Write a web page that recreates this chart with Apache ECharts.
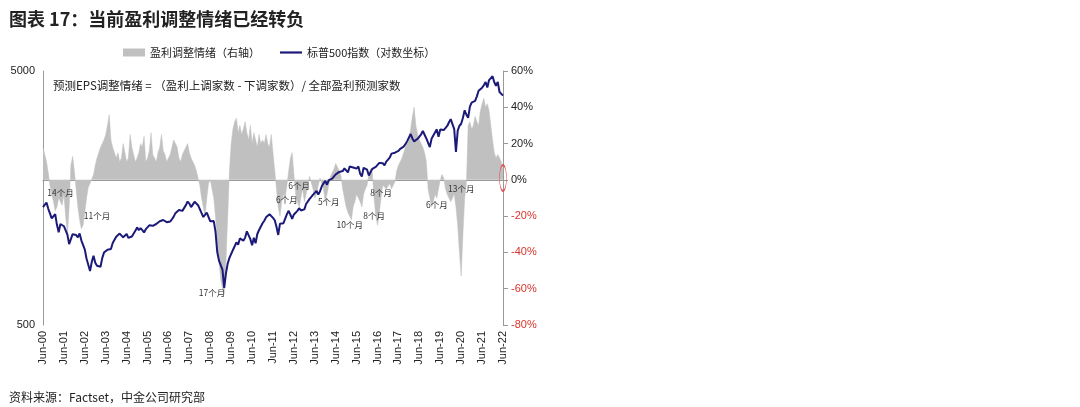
<!DOCTYPE html>
<html><head><meta charset="utf-8">
<script src="https://cdn.jsdelivr.net/npm/echarts@6/dist/echarts.min.js"></script>
<style>html,body{margin:0;padding:0;background:#fff}#c{width:1080px;height:407px}</style>
</head><body><div id="c"></div>
<script>
// S&P 500 monthly (Jun-00 .. Jun-22)
const spx = [
1455,1431,1518,1437,1429,1315,1320,
1366,1240,1160,1249,1256,1224,1211,1134,1041,1060,1139,1148,
1130,1107,1147,1077,1067,990,912,916,815,886,936,880,
856,841,848,917,964,975,990,1008,996,1051,1058,1112,
1131,1145,1126,1107,1121,1141,1102,1104,1115,1130,1174,1212,
1181,1204,1181,1157,1192,1191,1234,1220,1229,1207,1249,1248,
1280,1281,1295,1311,1270,1270,1277,1304,1336,1378,1401,1418,
1438,1407,1421,1482,1531,1503,1455,1474,1527,1549,1481,1468,
1379,1331,1323,1386,1400,1280,1267,1283,1166,969,896,903,
826,700,798,873,919,919,987,1021,1057,1036,1096,1115,
1074,1104,1169,1187,1089,1031,1102,1049,1141,1183,1181,1258,
1286,1327,1326,1364,1345,1321,1292,1219,1131,1253,1247,1258,
1312,1366,1408,1398,1310,1362,1379,1407,1441,1412,1416,1426,
1498,1515,1569,1598,1631,1606,1686,1633,1682,1757,1806,1848,
1783,1859,1872,1884,1924,1960,1931,2003,1972,2018,2068,2059,
1995,2105,2068,2086,2107,2063,2104,1972,1920,2079,2080,2044,
1940,1932,2060,2065,2097,2099,2174,2171,2168,2126,2199,2239,
2279,2364,2363,2384,2412,2423,2470,2472,2519,2575,2648,2674,
2824,2714,2641,2648,2705,2718,2816,2902,2914,2712,2760,2507,
2704,2784,2834,2946,2752,2942,2980,2926,2977,3038,3141,3231,
3226,2954,2400,2912,3044,3100,3271,3500,3363,3270,3622,3756,
3714,3811,3973,4181,4204,4298,4395,4523,4308,4605,4567,4766,
4516,4374,4530,4132,4132,4000
];
// Earnings revision sentiment, % (right axis)
const rev = [
18,14,10,4,-3,-8,-12,
-17,-15,-10,-12,-14,-8,-20,-30,-15,8,13,5,
-5,-15,-22,-27,-25,-18,-10,-4,-2,-1,3,8,
12,15,18,20,22,25,30,36,22,18,15,12,
15,10,12,20,15,10,12,25,18,14,10,12,
15,20,18,24,10,12,16,26,14,12,10,15,
18,25,16,14,10,12,14,18,22,20,18,12,
10,14,15,18,20,15,12,10,8,5,5,-3,
-10,-15,-20,-10,-2,0,-5,-10,-20,-35,-45,-55,
-60,-63,-45,-20,5,20,28,32,34,26,30,25,
28,32,26,22,30,20,26,22,18,25,20,
22,20,25,20,18,25,15,5,-5,
-15,-20,-12,-8,-10,-3,
5,12,15,3,
-8,-12,-15,-10,-5,-12,-8,-3,2,1,-5,-10,-8,-3,
1,2,-5,-12,-8,-3,2,4,
6,9,8,5,2,
-5,-10,-15,-18,-20,-22,-15,-12,-8,-10,-12,-15,-8,-5,-3,
3,6,4,
-10,-20,-25,-18,-10,-3,
-3,-5,-4,-2,-5,-3,-1,
5,8,10,12,15,18,20,22,28,35,40,30,
25,22,20,18,15,10,
-5,-10,-15,-12,-8,-10,-5,0,
3,1,
-5,-8,-10,-12,-10,-8,-15,-25,-40,-53,-30,-10,-2,
30,32,28,30,35,32,30,38,42,45,40,42,38,30,22,15,12,14,12,10,5
];
const monthNames = ['Jan','Feb','Mar','Apr','May','Jun','Jul','Aug','Sep','Oct','Nov','Dec'];
const months = [];
for (let i = 0; i < spx.length; i++) {
  const m = (5 + i) % 12, y = 2000 + Math.floor((5 + i) / 12);
  months.push(monthNames[m] + '-' + String(y % 100).padStart(2, '0'));
}
// Episode annotations: [month, value %, label]
const notes = [
['Apr-01',-7,'14个月'],['Jan-03',-20,'11个月'],['Jul-08',-62,'17个月'],
['Feb-12',-11,'6个月'],['Sep-12',-3,'6个月'],['Feb-14',-12,'5个月'],
['Feb-15',-25,'10个月'],['Apr-16',-20,'8个月'],['Aug-16',-7,'8个月'],
['Apr-19',-14,'6个月'],['Jun-20',-5,'13个月']
];
const F = 'Liberation Sans, Arial, sans-serif';
const chart = echarts.init(document.getElementById('c'));
chart.setOption({
  animation: false,
  textStyle: {fontFamily: F},
  title: [
    {text: '图表 17：当前盈利调整情绪已经转负', left: 4, top: 5,
     textStyle: {fontSize: 18, fontWeight: 'bold', color: '#222', fontFamily: 'Noto Sans CJK SC'}},
    {text: '资料来源：Factset，中金公司研究部', left: 4, top: 386,
     textStyle: {fontSize: 12, fontWeight: 'normal', color: '#222', fontFamily: 'Noto Sans CJK SC'}}
  ],
  legend: {top: 42, left: 118, itemGap: 20, itemWidth: 22, itemHeight: 8,
    textStyle: {fontSize: 11, color: '#222', fontFamily: 'Noto Sans CJK SC'},
    data: [{name: '盈利调整情绪（右轴）', icon: 'rect'}, {name: '标普500指数（对数坐标）', icon: 'path://M0,0H10V1H0Z'}]},
  graphic: [{type: 'text', left: 53, top: 80,
    style: {text: '预测EPS调整情绪 = （盈利上调家数 - 下调家数）/ 全部盈利预测家数', fontSize: 11.5, fill: '#222', fontFamily: 'Noto Sans CJK SC'}}],
  grid: {left: 43, right: 577, top: 71, bottom: 82},
  xAxis: {type: 'category', data: months, boundaryGap: false,
    axisLine: {lineStyle: {color: '#999'}}, axisTick: {show: false},
    axisLabel: {interval: (i, v) => v.startsWith('Jun'), rotate: 90, fontSize: 11, color: '#222', margin: 6}},
  yAxis: [
    {type: 'log', logBase: 10, min: 500, max: 5000, splitLine: {show: false},
     axisLine: {show: true, lineStyle: {color: '#999'}}, axisTick: {show: false},
     axisLabel: {fontSize: 11, color: '#222', formatter: v => (Math.abs(v-500)<1||Math.abs(v-5000)<1) ? Math.round(v) : ''}},
    {type: 'value', min: -80, max: 60, interval: 20, splitLine: {show: false},
     axisLine: {show: true, lineStyle: {color: '#999'}}, axisTick: {show: true, lineStyle: {color: '#999'}},
     axisLabel: {fontSize: 11, formatter: '{value}%', color: v => (parseFloat(v) < 0 ? '#d9342b' : '#222')}}
  ],
  series: [
    {name: '盈利调整情绪（右轴）', type: 'line', yAxisIndex: 1, data: rev, showSymbol: false,
     lineStyle: {color: '#c0c0c0', width: 0.5}, itemStyle: {color: '#c0c0c0'},
     areaStyle: {color: '#c0c0c0', opacity: 1, origin: 0},
     markPoint: {symbol: 'circle', symbolSize: 1, itemStyle: {color: 'rgba(0,0,0,0)'},
       label: {show: true, position: 'inside', fontSize: 8.5, color: '#333', fontFamily: 'Noto Sans CJK SC'},
       data: notes.map(n => ({coord: [n[0], n[1]], value: n[2], label: {formatter: n[2]}})).concat([
         {coord: ['Jun-22', 1], symbol: 'circle', symbolSize: [7, 26], value: '',
          itemStyle: {color: 'rgba(0,0,0,0)', borderColor: '#e05050', borderWidth: 1}, label: {show: false}}])}},
    {name: '标普500指数（对数坐标）', type: 'line', yAxisIndex: 0, data: spx, showSymbol: false,
     lineStyle: {color: '#1c1a78', width: 2}, itemStyle: {color: '#1c1a78'}, z: 5}
  ]
});
</script></body></html>
